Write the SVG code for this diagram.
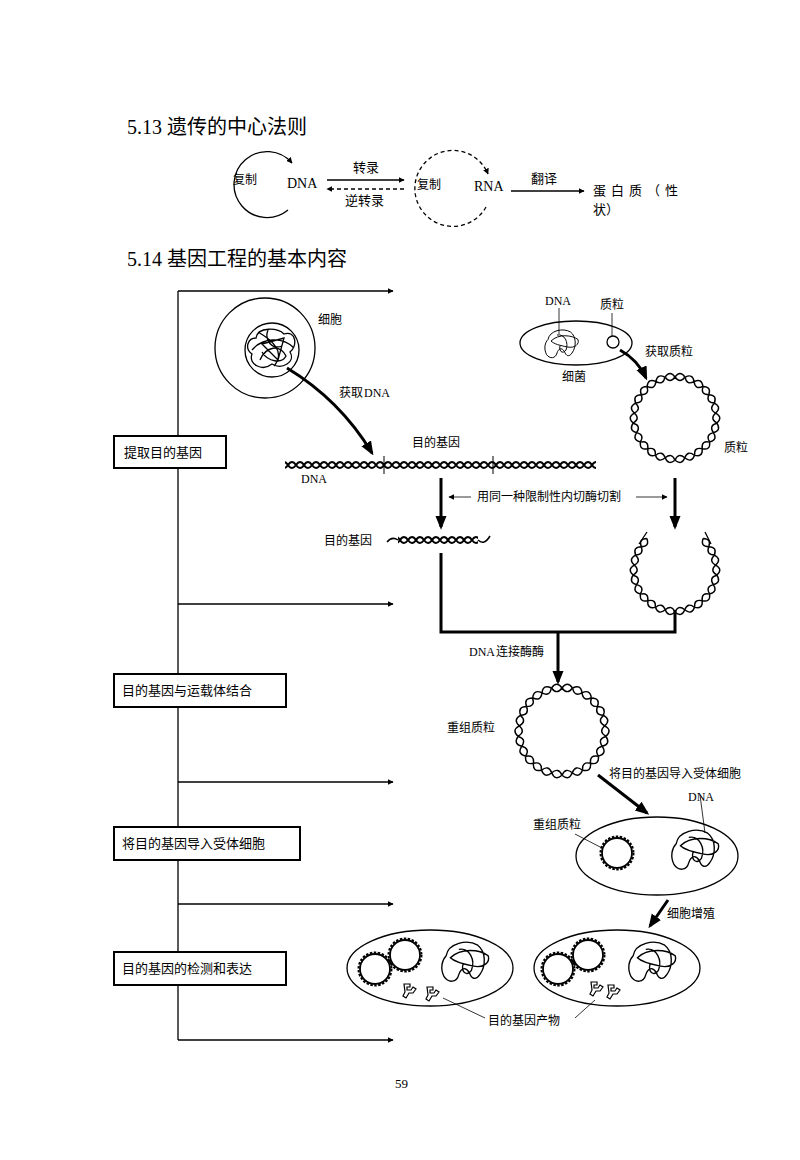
<svg xmlns="http://www.w3.org/2000/svg" width="800" height="1160" viewBox="0 0 800 1160">
<style>
text{font-family:"Liberation Serif","Noto Sans CJK SC",serif;fill:#000}
.s{font-family:"Noto Sans CJK SC","Liberation Sans",sans-serif;font-size:12px}
.t{font-family:"Liberation Serif","Noto Sans CJK SC",serif;font-size:20px}
.ln{fill:none;stroke:#000;stroke-width:1.3}
.th{fill:none;stroke:#000;stroke-width:3}
.md{fill:none;stroke:#000;stroke-width:1.5}
.box{fill:#fff;stroke:#000;stroke-width:2}
</style>
<defs>
<marker id="ah" viewBox="0 0 10 10" refX="9" refY="5" markerWidth="6" markerHeight="6" orient="auto-start-reverse" markerUnits="userSpaceOnUse"><path d="M0 0L10 5L0 10z"/></marker>
<marker id="ahb" viewBox="0 0 10 10" refX="8" refY="5" markerWidth="14" markerHeight="14" orient="auto" markerUnits="userSpaceOnUse"><path d="M0 1L10 5L0 9z"/></marker>
<path id="hu" d="M-10 0Q-5 -7 0 0Q5 7 10 0M-10 0Q-5 7 0 0Q5 -7 10 0" fill="none" stroke="#000" stroke-width="1.4"/>
<pattern id="hp" x="0" y="459" width="16" height="12" patternUnits="userSpaceOnUse"><path d="M0 6Q4 0 8 6Q12 12 16 6M0 6Q4 12 8 6Q12 0 16 6" fill="none" stroke="#000" stroke-width="2"/></pattern>
<pattern id="hp2" x="0" y="534" width="16" height="12" patternUnits="userSpaceOnUse"><path d="M0 6Q4 0 8 6Q12 12 16 6M0 6Q4 12 8 6Q12 0 16 6" fill="none" stroke="#000" stroke-width="2"/></pattern>
<g id="ring">
<use href="#hu" transform="rotate(0) translate(0 -41)"/><use href="#hu" transform="rotate(27.7) translate(0 -41)"/><use href="#hu" transform="rotate(55.4) translate(0 -41)"/><use href="#hu" transform="rotate(83.1) translate(0 -41)"/><use href="#hu" transform="rotate(110.8) translate(0 -41)"/><use href="#hu" transform="rotate(138.5) translate(0 -41)"/><use href="#hu" transform="rotate(166.2) translate(0 -41)"/><use href="#hu" transform="rotate(193.8) translate(0 -41)"/><use href="#hu" transform="rotate(221.5) translate(0 -41)"/><use href="#hu" transform="rotate(249.2) translate(0 -41)"/><use href="#hu" transform="rotate(276.9) translate(0 -41)"/><use href="#hu" transform="rotate(304.6) translate(0 -41)"/><use href="#hu" transform="rotate(332.3) translate(0 -41)"/>
</g>
<g id="bead"><circle r="15" fill="none" stroke="#000" stroke-width="1.8"/><circle r="16.5" fill="none" stroke="#000" stroke-width="2" stroke-dasharray="2.5 1.5"/></g>
<path id="blob" d="M-16 -6C-14 -18 4 -22 14 -16C22 -10 22 4 16 12C12 18 8 16 6 10C2 4 -2 6 -4 12C-6 20 -14 20 -18 14C-22 6 -20 -2 -16 -6ZM-12 -4C-2 -14 16 -12 24 -6C26 0 20 6 10 4C0 2 -8 0 -12 -4ZM-4 -12C6 -14 12 -2 8 8C4 14 -2 10 0 2" fill="none" stroke="#000" stroke-width="1.3"/>
<path id="prod" d="M-6 -6h6v3h-3v3h4l2 -3 3 2 -3 4h-4l-3 5 -3 -2 2 -4z" fill="none" stroke="#000" stroke-width="1.2"/>
</defs>

<text x="127" y="134" class="t">5.13 遗传的中心法则</text>
<text x="127" y="266" class="t">5.14 基因工程的基本内容</text>

<g id="central">
<path class="ln" d="M288 210A33 33 0 1 1 292 163" marker-end="url(#ah)"/>
<text x="233" y="184" class="s">复制</text>
<text x="287" y="188" font-size="14">DNA</text>
<line x1="327" y1="180" x2="404" y2="180" class="ln" marker-end="url(#ah)"/>
<text x="353" y="172" class="s" style="font-size:13px">转录</text>
<line x1="404" y1="189" x2="327" y2="189" class="ln" stroke-dasharray="4 3" marker-end="url(#ah)"/>
<text x="345" y="205" class="s" style="font-size:13px">逆转录</text>
<path class="ln" stroke-dasharray="4 3" d="M486 207A38 38 0 1 1 488 174" marker-end="url(#ah)"/>
<text x="417" y="189" class="s">复制</text>
<text x="474" y="191" font-size="14">RNA</text>
<line x1="511" y1="191" x2="584" y2="191" class="ln" marker-end="url(#ah)"/>
<text x="531" y="183" class="s" style="font-size:13px">翻译</text>
<text x="593" y="195" class="s" style="font-size:13px;letter-spacing:5px">蛋白质（性</text>
<text x="593" y="214" class="s" style="font-size:13px">状）</text>
</g>

<g id="timeline">
<line x1="178" y1="291" x2="178" y2="1040" class="ln"/>
<line x1="178" y1="291" x2="393" y2="291" class="ln" marker-end="url(#ah)"/>
<line x1="178" y1="604" x2="393" y2="604" class="ln" marker-end="url(#ah)"/>
<line x1="178" y1="782" x2="393" y2="782" class="ln" marker-end="url(#ah)"/>
<line x1="178" y1="904" x2="393" y2="904" class="ln" marker-end="url(#ah)"/>
<line x1="178" y1="1040" x2="393" y2="1040" class="ln" marker-end="url(#ah)"/>
</g>
<g id="box1"><rect x="114" y="436" width="112" height="32" class="box"/><text x="124" y="457" class="s" style="font-size:13px">提取目的基因</text></g>
<g id="box2"><rect x="114" y="674" width="172" height="33" class="box"/><text x="122" y="695" class="s" style="font-size:13px">目的基因与运载体结合</text></g>
<g id="box3"><rect x="114" y="827" width="186" height="33" class="box"/><text x="122" y="848" class="s" style="font-size:13px">将目的基因导入受体细胞</text></g>
<g id="box4"><rect x="114" y="952" width="172" height="33" class="box"/><text x="122" y="973" class="s" style="font-size:13px">目的基因的检测和表达</text></g>

<g id="cell">
<circle cx="265" cy="348" r="50" class="ln"/>
<circle cx="272" cy="350" r="27" class="ln"/>
<path class="ln" d="M256 338C258 326 278 328 284 334C296 330 298 346 290 352C296 362 282 370 272 364C262 372 248 364 252 354C244 348 248 338 256 338ZM258 332C272 340 286 352 274 366M252 350C262 338 282 336 294 348M262 344L284 338L278 360ZM260 360C266 346 280 344 286 356C282 364 268 362 262 352M268 330C264 340 272 350 282 346"/>
<text x="318" y="324" class="s">细胞</text>
</g>
<g id="bact">
<ellipse cx="576" cy="343" rx="56" ry="22" class="ln"/>
<use href="#blob" transform="translate(560 344) scale(0.75)"/>
<circle cx="613" cy="342" r="6" class="ln"/>
<line x1="559" y1="308" x2="559" y2="334" stroke="#000" stroke-width="0.8"/>
<line x1="612" y1="313" x2="612" y2="336" stroke="#000" stroke-width="0.8"/>
<text x="545" y="305" font-size="12">DNA</text>
<text x="600" y="309" class="s">质粒</text>
<text x="562" y="381" class="s">细菌</text>
</g>

<g id="plasmid1"><use href="#ring" transform="translate(675 418)"/><text x="724" y="452" class="s">质粒</text></g>
<g id="dnaLinear">
<rect x="285" y="459" width="311" height="12" fill="url(#hp)"/>
<line x1="384" y1="456" x2="384" y2="474" stroke="#000"/>
<line x1="493" y1="456" x2="493" y2="474" stroke="#000"/>
<text x="412" y="447" class="s">目的基因</text>
<text x="301" y="483" font-size="12">DNA</text>
</g>
<g id="gene">
<path class="md" d="M387 542Q392 536 398 540"/>
<rect x="398" y="534" width="80" height="12" fill="url(#hp2)"/>
<path class="md" d="M478 540Q484 546 490 536"/>
<text x="324" y="545" class="s">目的基因</text>
</g>
<g id="plasmid2">
<g transform="translate(675 570)">
<use href="#hu" transform="rotate(55.4) translate(0 -41)"/><use href="#hu" transform="rotate(83.1) translate(0 -41)"/><use href="#hu" transform="rotate(110.8) translate(0 -41)"/><use href="#hu" transform="rotate(138.5) translate(0 -41)"/><use href="#hu" transform="rotate(166.2) translate(0 -41)"/><use href="#hu" transform="rotate(193.8) translate(0 -41)"/><use href="#hu" transform="rotate(221.5) translate(0 -41)"/><use href="#hu" transform="rotate(249.2) translate(0 -41)"/><use href="#hu" transform="rotate(276.9) translate(0 -41)"/><use href="#hu" transform="rotate(304.6) translate(0 -41)"/>
<path class="ln" d="M-36 -26L-28 -38M36 -26L30 -38"/>
</g>
</g>
<g id="plasmid3"><use href="#ring" transform="translate(562 731) scale(1.05)"/><text x="447" y="732" class="s">重组质粒</text></g>

<g id="cellA">
<ellipse cx="657" cy="856" rx="81" ry="39" class="ln"/>
<use href="#bead" transform="translate(617 853)"/>
<use href="#blob" transform="translate(693 850) scale(1.05)"/>
<line x1="575" y1="834" x2="602" y2="848" stroke="#000" stroke-width="0.8"/>
<line x1="700" y1="795" x2="705" y2="833" stroke="#000" stroke-width="0.8"/>
<text x="533" y="829" class="s">重组质粒</text>
<text x="688" y="801" font-size="12">DNA</text>
</g>
<g id="cellB">
<ellipse cx="430" cy="968" rx="83" ry="38" class="ln"/>
<use href="#bead" transform="translate(375 969)"/>
<use href="#bead" transform="translate(405 955)"/>
<use href="#blob" transform="translate(463 962) scale(1.05)"/>
<use href="#prod" transform="translate(410 990)"/>
<use href="#prod" transform="translate(433 993)"/>
</g>
<g id="cellC">
<ellipse cx="617" cy="968" rx="83" ry="38" class="ln"/>
<use href="#bead" transform="translate(558 969)"/>
<use href="#bead" transform="translate(588 955)"/>
<use href="#blob" transform="translate(650 962) scale(1.05)"/>
<use href="#prod" transform="translate(597 988)"/>
<use href="#prod" transform="translate(614 991)"/>
<line x1="443" y1="998" x2="485" y2="1018" stroke="#000" stroke-width="0.8"/>
<line x1="575" y1="1018" x2="595" y2="1000" stroke="#000" stroke-width="0.8"/>
<text x="488" y="1025" class="s">目的基因产物</text>
</g>

<g id="connectors">
<path class="th" d="M287 368Q340 400 372 453" marker-end="url(#ahb)"/>
<text x="339" y="397" class="s">获取</text><text x="364" y="397" font-size="12">DNA</text>
<path class="th" d="M620 350Q638 360 646 378" marker-end="url(#ahb)"/>
<text x="645" y="356" class="s">获取质粒</text>
<line x1="441" y1="478" x2="441" y2="527" class="th" marker-end="url(#ahb)"/>
<line x1="675" y1="478" x2="675" y2="527" class="th" marker-end="url(#ahb)"/>
<line x1="471" y1="497" x2="449" y2="497" stroke="#000" stroke-width="0.8" marker-end="url(#ah)"/>
<line x1="636" y1="497" x2="667" y2="497" stroke="#000" stroke-width="0.8" marker-end="url(#ah)"/>
<text x="477" y="501" class="s">用同一种限制性内切酶切割</text>
<path class="th" d="M441 553V632H675V610"/>
<line x1="558" y1="632" x2="558" y2="682" class="th" marker-end="url(#ahb)"/>
<text x="469" y="656" font-size="12">DNA</text><text x="496" y="656" class="s">连接酶酶</text>
<line x1="598" y1="775" x2="647" y2="813" class="th" marker-end="url(#ahb)"/>
<text x="609" y="778" class="s">将目的基因导入受体细胞</text>
<line x1="668" y1="900" x2="650" y2="926" class="th" marker-end="url(#ahb)"/>
<text x="667" y="918" class="s">细胞增殖</text>
</g>
<text x="395" y="1088" font-size="13">59</text>
</svg>
